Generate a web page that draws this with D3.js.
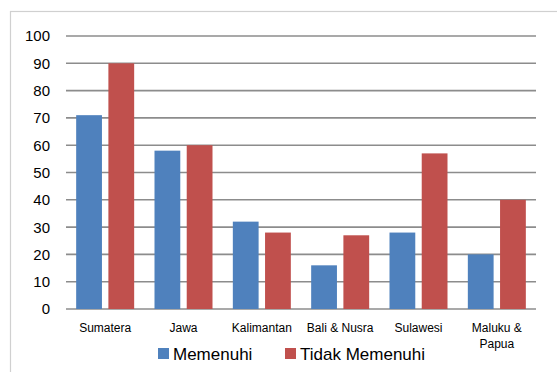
<!DOCTYPE html>
<html>
<head>
<meta charset="utf-8">
<script src="https://cdn.jsdelivr.net/npm/d3@7"></script>
<style>
  html, body { margin: 0; padding: 0; background: #fff; }
  svg { display: block; font-family: "Liberation Sans", Arial, sans-serif; }
</style>
</head>
<body>
<svg id="chart" width="557" height="372"></svg>
<script>
// Regions and the two series (counts per region)
const categories = ["Sumatera", "Jawa", "Kalimantan", "Bali & Nusra", "Sulawesi", "Maluku & Papua"];
const categoryLines = [["Sumatera"], ["Jawa"], ["Kalimantan"], ["Bali & Nusra"], ["Sulawesi"], ["Maluku &", "Papua"]];
const memenuhi = [71, 58, 32, 16, 28, 20];
const tidakMemenuhi = [90, 60, 28, 27, 57, 40];
const seriesNames = ["Memenuhi", "Tidak Memenuhi"];
const seriesColors = ["#4F81BD", "#C0504D"];
const yTicks = [0, 10, 20, 30, 40, 50, 60, 70, 80, 90, 100];

const svg = d3.select("#chart");

// Chart area frame (only top and left edges visible)
svg.append("rect")
  .attr("x", 10.5).attr("y", 11.5)
  .attr("width", 600).attr("height", 400)
  .attr("fill", "none").attr("stroke", "#d0d0d0").attr("stroke-width", 1.2);

const plot = { left: 66, right: 536, top: 36, bottom: 309 };

const x = d3.scaleBand().domain(categories).range([plot.left, plot.right]).padding(0);
const y = d3.scaleLinear().domain([0, 100]).range([plot.bottom, plot.top]);

// Horizontal gridlines
svg.append("g").selectAll("line").data(yTicks).join("line")
  .attr("x1", plot.left).attr("x2", plot.right)
  .attr("y1", d => y(d)).attr("y2", d => y(d))
  .attr("stroke", "#8c8c8c").attr("stroke-width", 1.6);

// Y tick labels
svg.append("g").selectAll("text").data(yTicks).join("text")
  .attr("x", 50).attr("y", d => y(d))
  .attr("dy", "0.36em")
  .attr("text-anchor", "end")
  .attr("font-size", 15)
  .attr("fill", "#000")
  .text(d => d);

// Bars: each series sits inside its category band
const inner = d3.scaleBand().domain(seriesNames).range([-29, 29]).paddingInner(0.2);
const rows = categories.map((c, i) => ({ cat: c, values: [memenuhi[i], tidakMemenuhi[i]] }));

const groups = svg.append("g").selectAll("g").data(rows).join("g")
  .attr("transform", d => `translate(${x(d.cat) + x.bandwidth() / 2},0)`);

groups.selectAll("rect").data(d => d.values.map((v, k) => ({ v, k })))
  .join("rect")
  .attr("x", d => inner(seriesNames[d.k]))
  .attr("width", inner.bandwidth())
  .attr("y", d => y(d.v))
  .attr("height", d => y(0) - y(d.v))
  .attr("fill", d => seriesColors[d.k]);

// Category labels
const catLabels = svg.append("g").selectAll("text").data(categories).join("text")
  .attr("text-anchor", "middle")
  .attr("font-size", 12)
  .attr("fill", "#000")
  .attr("transform", d => `translate(${x(d) + x.bandwidth() / 2},332)`);
catLabels.selectAll("tspan").data((d, i) => categoryLines[i]).join("tspan")
  .attr("x", 0).attr("dy", (d, j) => j === 0 ? 0 : 16)
  .text(d => d);

// Legend
const legendItems = [
  { name: seriesNames[0], color: seriesColors[0], x: 158 },
  { name: seriesNames[1], color: seriesColors[1], x: 285 }
];
const lg = svg.append("g").selectAll("g").data(legendItems).join("g")
  .attr("transform", d => `translate(${d.x},348)`);
lg.append("rect").attr("width", 11).attr("height", 11).attr("fill", d => d.color);
lg.append("text")
  .attr("x", 15).attr("y", 5.5).attr("dy", "0.36em")
  .attr("font-size", 17)
  .attr("fill", "#000")
  .text(d => d.name);
</script>
</body>
</html>
